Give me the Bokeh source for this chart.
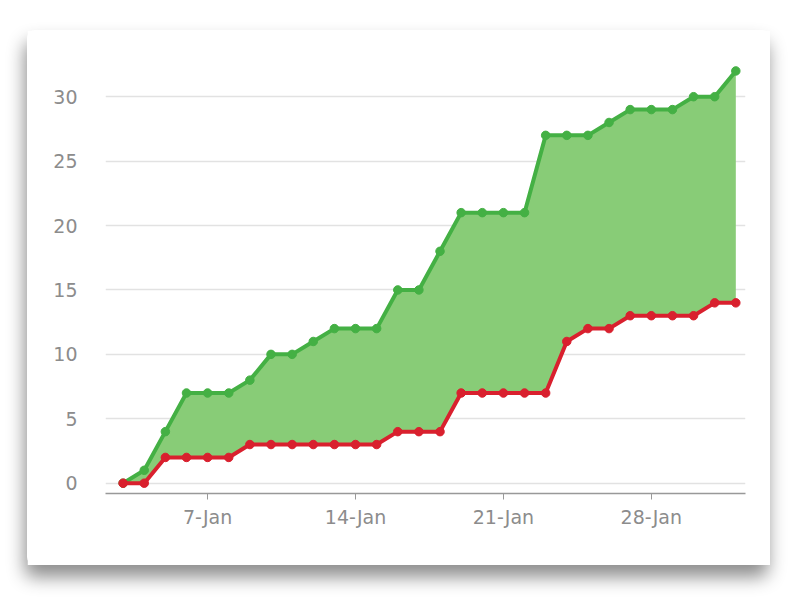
from datetime import datetime, timedelta
from bokeh.plotting import figure
from bokeh.models import Range1d, FixedTicker, DatetimeTickFormatter, ColumnDataSource
from bokeh.embed import file_html
from bokeh.resources import INLINE

start = datetime(2014, 1, 3)
days = [start + timedelta(days=i) for i in range(30)]
upper = [0, 1, 4, 7, 7, 7, 8, 10, 10, 11, 12, 12, 12, 15, 15, 18, 21, 21, 21, 21,
         27, 27, 27, 28, 29, 29, 29, 30, 30, 32]
lower = [0, 0, 2, 2, 2, 2, 3, 3, 3, 3, 3, 3, 3, 4, 4, 4, 7, 7, 7, 7,
         7, 11, 12, 12, 13, 13, 13, 13, 14, 14]
tick_dates = [datetime(2014, 1, 7), datetime(2014, 1, 14), datetime(2014, 1, 21), datetime(2014, 1, 28)]
y_ticks = [0, 5, 10, 15, 20, 25, 30]

src = ColumnDataSource(dict(x=days, up=upper, lo=lower))

def ms(d):
    return (d - datetime(1970, 1, 1)).total_seconds() * 1000

p = figure(width=743, height=535, output_backend="svg", toolbar_location=None,
           x_axis_type="datetime",
           x_range=Range1d(ms(datetime(2014, 1, 2, 4)), ms(datetime(2014, 2, 1, 11))),
           y_range=Range1d(-0.8, 32.5),
           min_border_left=78, min_border_right=25, min_border_top=34, min_border_bottom=72)
p.margin = (30, 0, 0, 27)
p.styles = {"box-shadow": "-2px 12px 18px rgba(0,0,0,0.45)", "border-radius": "8px",
            "background-color": "white"}
p.outline_line_color = None
p.background_fill_color = "white"
p.border_fill_color = "white"

p.varea(x="x", y1="lo", y2="up", source=src, fill_color="#88cc77", fill_alpha=1.0)
p.line(x="x", y="up", source=src, line_color="#44b044", line_width=4)
p.scatter(x="x", y="up", source=src, size=8.5, fill_color="#44b044", line_color="#44b044")
p.line(x="x", y="lo", source=src, line_color="#d9202e", line_width=4)
p.scatter(x="x", y="lo", source=src, size=8.5, fill_color="#d9202e", line_color="#d9202e")

p.xaxis.ticker = FixedTicker(ticks=[ms(d) for d in tick_dates])
p.xaxis.formatter = DatetimeTickFormatter(days="%-d-%b", months="%-d-%b")
p.xaxis.axis_line_color = "#999999"
p.xaxis.axis_line_width = 1.5
p.xaxis.major_tick_line_color = "#999999"
p.xaxis.major_tick_out = 6
p.xaxis.major_tick_in = 0
p.xaxis.minor_tick_line_color = None
p.xaxis.major_label_text_color = "#8c8c8c"
p.xaxis.major_label_text_font = "DejaVu Sans"
p.xaxis.major_label_text_font_size = "19px"
p.xaxis.major_label_standoff = 6

p.yaxis.ticker = FixedTicker(ticks=y_ticks)
p.yaxis.axis_line_color = None
p.yaxis.major_tick_line_color = None
p.yaxis.minor_tick_line_color = None
p.yaxis.major_label_text_color = "#8c8c8c"
p.yaxis.major_label_text_font = "DejaVu Sans"
p.yaxis.major_label_text_font_size = "19px"
p.yaxis.major_label_standoff = 22

p.xgrid.grid_line_color = None
p.ygrid.grid_line_color = "#e2e2e2"
p.ygrid.grid_line_width = 1.5

open("out.html", "w").write(file_html(p, INLINE))
